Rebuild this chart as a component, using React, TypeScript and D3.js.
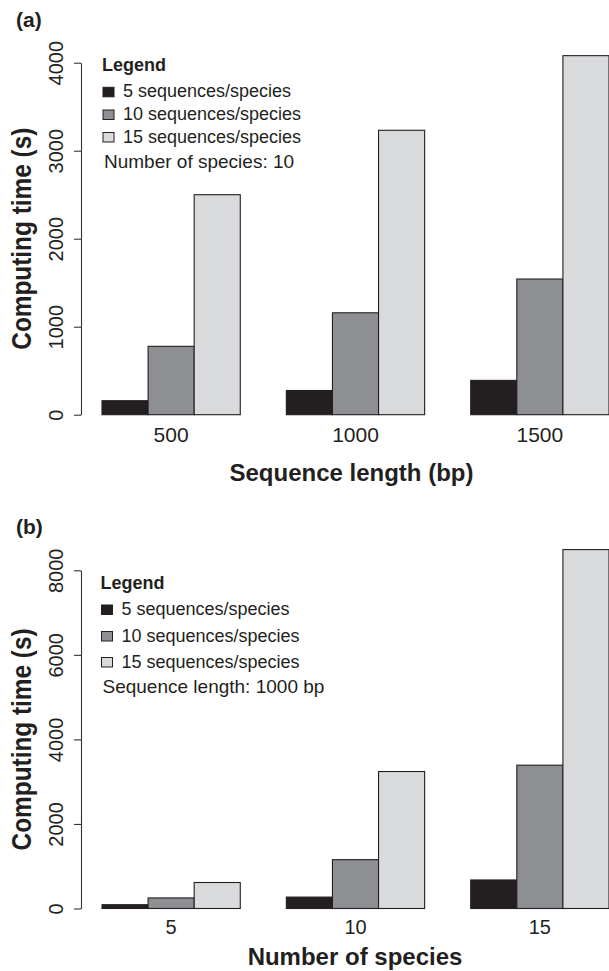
import React, { useEffect, useRef } from 'react';
import * as d3 from 'd3';

// panel (a): sequence length, 10 species
const lengthGroups = ['500', '1000', '1500'];
const lengthSeq5 = [159, 275, 390];
const lengthSeq10 = [777, 1158, 1542];
const lengthSeq15 = [2500, 3232, 4080];
const lengthTicks = [0, 1000, 2000, 3000, 4000];

// panel (b): number of species, 1000 bp
const speciesGroups = ['5', '10', '15'];
const speciesSeq5 = [90, 270, 675];
const speciesSeq10 = [250, 1155, 3390];
const speciesSeq15 = [615, 3240, 8490];
const speciesTicks = [0, 2000, 4000, 6000, 8000];

const seriesNames = ['5 sequences/species', '10 sequences/species', '15 sequences/species'];
const seriesColors = ['#231f20', '#8e8f92', '#d9dadc'];

const FONT = '"Liberation Sans", Arial, Helvetica, sans-serif';
const INK = '#231f20';

const drawPanel = (svg, p) => {
  const g = svg.append('g');

  const x = d3.scaleBand().domain(p.groups).range([102, 609]).paddingInner(0.25).paddingOuter(0);
  const xs = d3.scaleBand().domain(d3.range(3)).range([0, x.bandwidth()]).padding(0);
  const y = d3.scaleLinear().domain([0, d3.max(p.ticks)]).range([p.y0, p.y1]);

  // bars
  p.groups.forEach((grp, i) => {
    p.series.forEach((vals, s) => {
      g.append('rect')
        .attr('x', x(grp) + xs(s))
        .attr('y', y(vals[i]))
        .attr('width', xs.bandwidth())
        .attr('height', y(0) - y(vals[i]))
        .attr('fill', seriesColors[s])
        .attr('stroke', INK)
        .attr('stroke-width', 1.1);
    });
  });

  // y axis, R style with rotated labels
  const ax = g.append('g')
    .attr('transform', 'translate(81,0)')
    .call(d3.axisLeft(y).tickValues(p.ticks).tickSize(7).tickSizeOuter(0).tickFormat(d3.format('d')));
  ax.select('.domain').attr('stroke', '#333').attr('stroke-width', 1.1);
  ax.selectAll('.tick line').attr('stroke', '#333').attr('stroke-width', 1.1);
  ax.selectAll('.tick text')
    .attr('x', null).attr('dy', null)
    .attr('transform', 'translate(-18,0) rotate(-90)')
    .attr('text-anchor', 'middle')
    .attr('fill', INK)
    .style('font-family', FONT)
    .style('font-size', '20px');

  // group labels
  g.selectAll('.glabel')
    .data(p.groups)
    .enter()
    .append('text')
    .attr('x', d => x(d) + x.bandwidth() / 2)
    .attr('y', p.tickY)
    .attr('text-anchor', 'middle')
    .attr('fill', INK)
    .style('font-family', FONT)
    .style('font-size', p.tickSize + 'px')
    .text(d => d);

  // axis titles
  g.append('text')
    .attr('x', p.xTitleX)
    .attr('y', p.xTitleY)
    .attr('text-anchor', 'middle')
    .attr('fill', INK)
    .style('font-family', FONT)
    .style('font-size', '24px')
    .style('font-weight', 'bold')
    .text(p.xTitle);

  g.append('text')
    .attr('transform', `translate(31,${(p.y0 + p.y1) / 2}) rotate(-90)`)
    .attr('text-anchor', 'middle')
    .attr('fill', INK)
    .attr('textLength', 222)
    .attr('lengthAdjust', 'spacingAndGlyphs')
    .style('font-family', FONT)
    .style('font-size', '27px')
    .style('font-weight', 'bold')
    .text('Computing time (s)');

  // panel tag
  g.append('text')
    .attr('x', 16)
    .attr('y', p.tagY)
    .attr('fill', INK)
    .style('font-family', FONT)
    .style('font-size', '21px')
    .style('font-weight', 'bold')
    .text(p.tag);

  // legend
  const lg = g.append('g');
  lg.append('text')
    .attr('x', p.legX)
    .attr('y', p.legY)
    .attr('fill', INK)
    .style('font-family', FONT)
    .style('font-size', '18px')
    .style('font-weight', 'bold')
    .text('Legend');

  seriesNames.forEach((name, s) => {
    const by = p.rowY[s];
    lg.append('rect')
      .attr('x', p.legX + 1)
      .attr('y', by - 10)
      .attr('width', 11)
      .attr('height', 9.5)
      .attr('fill', seriesColors[s])
      .attr('stroke', INK)
      .attr('stroke-width', 1);
    lg.append('text')
      .attr('x', p.legX + 21)
      .attr('y', by)
      .attr('fill', INK)
      .style('font-family', FONT)
      .style('font-size', '18px')
      .text(name);
  });

  lg.append('text')
    .attr('x', p.legX + 2)
    .attr('y', p.noteY)
    .attr('fill', INK)
    .style('font-family', FONT)
    .style('font-size', '19px')
    .text(p.note);
};

const App = () => {
  const ref = useRef(null);

  useEffect(() => {
    const svg = d3.select(ref.current);
    svg.selectAll('*').remove();

    drawPanel(svg, {
      tag: '(a)',
      tagY: 27,
      groups: lengthGroups,
      series: [lengthSeq5, lengthSeq10, lengthSeq15],
      ticks: lengthTicks,
      y0: 414.7,
      y1: 62.7,
      tickY: 442,
      tickSize: 21,
      xTitle: 'Sequence length (bp)',
      xTitleX: 351.5,
      xTitleY: 481,
      legX: 102,
      legY: 70.7,
      rowY: [97.3, 120, 142.5],
      noteY: 168.3,
      note: 'Number of species: 10',
    });

    drawPanel(svg, {
      tag: '(b)',
      tagY: 534,
      groups: speciesGroups,
      series: [speciesSeq5, speciesSeq10, speciesSeq15],
      ticks: speciesTicks,
      y0: 908.5,
      y1: 570.3,
      tickY: 934,
      tickSize: 20,
      xTitle: 'Number of species',
      xTitleX: 355,
      xTitleY: 965,
      legX: 100.5,
      legY: 589.3,
      rowY: [615, 641.5, 667.5],
      noteY: 693.3,
      note: 'Sequence length: 1000 bp',
    });
  }, []);

  return (
    <svg
      ref={ref}
      width={609}
      height={971}
      style={{ position: 'absolute', left: 0, top: 0, background: '#fff' }}
    />
  );
};

export default App;
